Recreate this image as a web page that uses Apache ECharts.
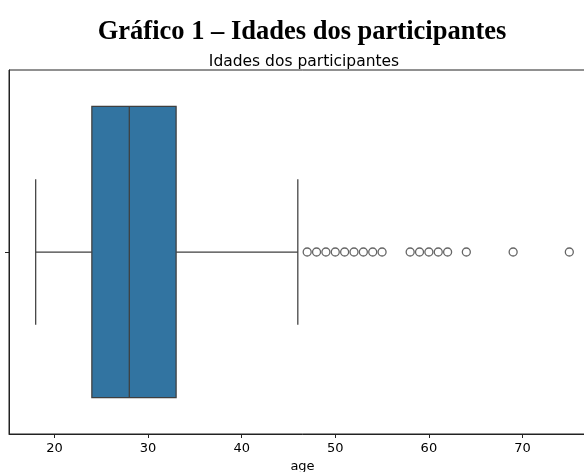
<!DOCTYPE html>
<html>
<head>
<meta charset="utf-8">
<script src="https://cdn.jsdelivr.net/npm/echarts@6/dist/echarts.min.js"></script>
<style>
  html, body { margin: 0; padding: 0; background: #fff; overflow: hidden; }
  #chart { width: 597px; height: 472px; }
</style>
</head>
<body>
<div id="chart"></div>
<script>
// Age distribution summary (years)
const categories = [''];
const boxStats = [18, 24, 28, 33, 46];          // lower whisker, Q1, median, Q3, upper whisker
const outliers = [47, 48, 49, 50, 51, 52, 53, 54, 55, 58, 59, 60, 61, 62, 64, 69, 75];
const tickValues = [20, 30, 40, 50, 60, 70];
const axisMin = 15.15;
const axisMax = 77.85;

const lineColor = '#3f3f3f';
const boxColor = '#3274a1';

const chart = echarts.init(document.getElementById('chart'), null, { renderer: 'canvas' });

function renderBox(params, api) {
  const cat = api.value(0);
  const lo = api.coord([api.value(1), cat]);
  const q1 = api.coord([api.value(2), cat]);
  const med = api.coord([api.value(3), cat]);
  const q3 = api.coord([api.value(4), cat]);
  const hi = api.coord([api.value(5), cat]);
  const band = api.size([0, 1])[1];
  const half = band * 0.4;
  const cap = band * 0.2;
  const cy = q1[1];
  const lineStyle = { stroke: lineColor, lineWidth: 1.25, fill: null };
  return {
    type: 'group',
    children: [
      { type: 'line', shape: { x1: lo[0], y1: cy, x2: q1[0], y2: cy }, style: lineStyle },
      { type: 'line', shape: { x1: q3[0], y1: cy, x2: hi[0], y2: cy }, style: lineStyle },
      { type: 'line', shape: { x1: lo[0], y1: cy - cap, x2: lo[0], y2: cy + cap }, style: lineStyle },
      { type: 'line', shape: { x1: hi[0], y1: cy - cap, x2: hi[0], y2: cy + cap }, style: lineStyle },
      { type: 'rect', shape: { x: q1[0], y: cy - half, width: q3[0] - q1[0], height: 2 * half },
        style: { fill: boxColor, stroke: lineColor, lineWidth: 1.25 } },
      { type: 'line', shape: { x1: med[0], y1: cy - half, x2: med[0], y2: cy + half }, style: lineStyle }
    ]
  };
}

chart.setOption({
  animation: false,
  backgroundColor: '#fff',
  title: [
    {
      text: 'Gráfico 1 – Idades dos participantes',
      left: 297, top: 14, textAlign: 'center',
      textStyle: { fontFamily: 'Liberation Serif', fontWeight: 'bold', fontSize: 26.5, color: '#000' }
    },
    {
      text: 'Idades dos participantes',
      left: 299, top: 49, textAlign: 'center',
      textStyle: { fontFamily: 'DejaVu Sans', fontWeight: 'normal', fontSize: 15.5, color: '#000' }
    }
  ],
  grid: {
    left: 9, top: 70, right: 1, bottom: 38,
    outerBoundsMode: 'none',
    show: true, borderColor: '#222', borderWidth: 1, backgroundColor: 'transparent'
  },
  xAxis: {
    type: 'value',
    min: axisMin, max: axisMax,
    name: 'age', nameLocation: 'middle', nameGap: 24,
    nameTextStyle: { fontFamily: 'DejaVu Sans', fontSize: 13, color: '#000' },
    axisLine: { show: true, lineStyle: { color: '#222', width: 1 } },
    axisTick: { show: true, length: 4, customValues: tickValues, lineStyle: { color: '#222' } },
    axisLabel: { customValues: tickValues, margin: 8, fontFamily: 'DejaVu Sans', fontSize: 13, color: '#000' },
    splitLine: { show: false }
  },
  yAxis: {
    type: 'category',
    data: categories,
    axisLine: { show: true, lineStyle: { color: '#222', width: 1 } },
    axisTick: { show: true, length: 4, alignWithLabel: true, lineStyle: { color: '#222' } },
    axisLabel: { show: true },
    splitLine: { show: false }
  },
  series: [
    {
      type: 'custom',
      renderItem: renderBox,
      encode: { y: 0, x: [1, 2, 3, 4, 5] },
      data: [[0].concat(boxStats)],
      z: 2
    },
    {
      type: 'scatter',
      symbol: 'circle',
      symbolSize: 8,
      itemStyle: { color: 'transparent', borderColor: lineColor, borderWidth: 1.3 },
      data: outliers.map(v => [v, 0]),
      z: 3
    }
  ]
});
</script>
</body>
</html>
